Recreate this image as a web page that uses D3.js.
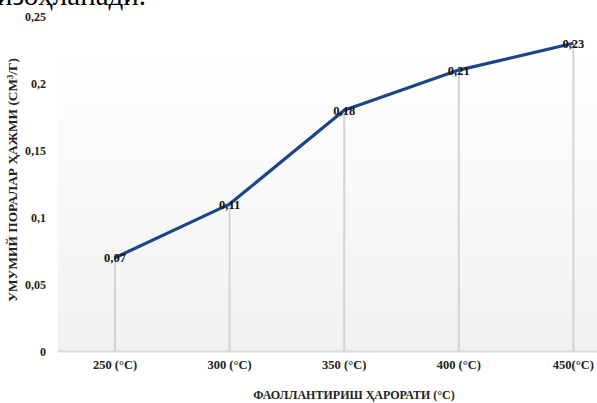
<!DOCTYPE html>
<html>
<head>
<meta charset="utf-8">
<script src="https://cdn.jsdelivr.net/npm/d3@7"></script>
<style>
  html, body { margin: 0; padding: 0; background: #fff; overflow: hidden; }
  svg { display: block; font-family: "Liberation Serif", "Times New Roman", serif; }
</style>
</head>
<body>
<svg id="chart" width="597" height="403"></svg>
<script>
// Activation temperature vs. total pore volume
const categories = ["250 (°C)", "300 (°C)", "350 (°C)", "400 (°C)", "450(°C)"];
const poreVolume = [0.07, 0.11, 0.18, 0.21, 0.23];
const yTicks = [0, 0.05, 0.1, 0.15, 0.2, 0.25];
const yTickLabels = ["0", "0,05", "0,1", "0,15", "0,2", "0,25"];
const valueLabels = ["0,07", "0,11", "0,18", "0,21", "0,23"];

const FONT = "'Liberation Serif', 'Times New Roman', serif";
const svg = d3.select("#chart");
const plot = { left: 57.7, right: 630.7, top: 16.5, bottom: 351.5 };

const x = d3.scaleBand().domain(categories).range([plot.left, plot.right]);
const y = d3.scaleLinear().domain([0, 0.25]).range([plot.bottom, plot.top]);
const cx = d => x(d) + x.bandwidth() / 2;

// caption line above the figure
svg.append("text")
  .attr("x", -3).attr("y", 5)
  .attr("font-family", FONT)
  .attr("font-size", 29)
  .attr("fill", "#000")
  .text("изоҳланади.");

// plot area with soft vertical shading
const defs = svg.append("defs");
const grad = defs.append("linearGradient").attr("id", "bg").attr("x1", 0).attr("y1", 0).attr("x2", 0).attr("y2", 1);
grad.append("stop").attr("offset", "0%").attr("stop-color", "#ffffff");
grad.append("stop").attr("offset", "100%").attr("stop-color", "#f1f1f1");
svg.append("rect")
  .attr("x", plot.left).attr("y", 52)
  .attr("width", plot.right - plot.left).attr("height", plot.bottom - 52)
  .attr("fill", "url(#bg)");

// drop lines from each point to the axis
svg.append("g").selectAll("line")
  .data(categories)
  .join("line")
  .attr("x1", d => cx(d)).attr("x2", d => cx(d))
  .attr("y1", (d, i) => y(poreVolume[i])).attr("y2", plot.bottom)
  .attr("stroke", "#d3d3d3").attr("stroke-width", 2);

// x axis baseline
svg.append("line")
  .attr("x1", plot.left).attr("x2", plot.right)
  .attr("y1", plot.bottom).attr("y2", plot.bottom)
  .attr("stroke", "#d9d9d9").attr("stroke-width", 2);

// y axis tick labels
const yAxis = d3.axisLeft(y).tickValues(yTicks).tickSize(0).tickPadding(0)
  .tickFormat((d, i) => yTickLabels[i]);
const gy = svg.append("g").attr("transform", "translate(46,0)").call(yAxis);
gy.select(".domain").remove();
gy.selectAll("text")
  .attr("font-family", FONT)
  .attr("font-size", 12).attr("font-weight", "bold").attr("fill", "#222");

// x axis tick labels
const xAxis = d3.axisBottom(x).tickSize(0).tickPadding(0);
const gx = svg.append("g").attr("transform", `translate(0,${plot.bottom + 9})`).call(xAxis);
gx.select(".domain").remove();
gx.selectAll("text")
  .attr("font-family", FONT)
  .attr("font-size", 12.5).attr("font-weight", "bold").attr("fill", "#222");

// data line
const line = d3.line().x((d, i) => cx(categories[i])).y(d => y(d));
svg.append("path")
  .datum(poreVolume)
  .attr("d", line)
  .attr("fill", "none")
  .attr("stroke", "#1c4587")
  .attr("stroke-width", 3.2)
  .attr("stroke-linejoin", "round");

// value labels
svg.append("g").selectAll("text")
  .data(poreVolume)
  .join("text")
  .attr("x", (d, i) => cx(categories[i]))
  .attr("y", d => y(d) + 4.5)
  .attr("text-anchor", "middle")
  .attr("font-family", FONT)
  .attr("font-size", 12.5).attr("font-weight", "bold").attr("fill", "#111")
  .text((d, i) => valueLabels[i]);

// axis titles
svg.append("text")
  .attr("transform", "translate(17,180) rotate(-90)")
  .attr("text-anchor", "middle")
  .attr("font-family", FONT)
  .attr("font-size", 13.4).attr("font-weight", "bold").attr("fill", "#222")
  .text("УМУМИЙ ПОРАЛАР ҲАЖМИ (СМ³/Г)");

svg.append("text")
  .attr("x", 354).attr("y", 399)
  .attr("text-anchor", "middle")
  .attr("font-family", FONT)
  .attr("font-size", 12).attr("font-weight", "bold").attr("fill", "#222")
  .text("ФАОЛЛАНТИРИШ ҲАРОРАТИ (°C)");
</script>
</body>
</html>
